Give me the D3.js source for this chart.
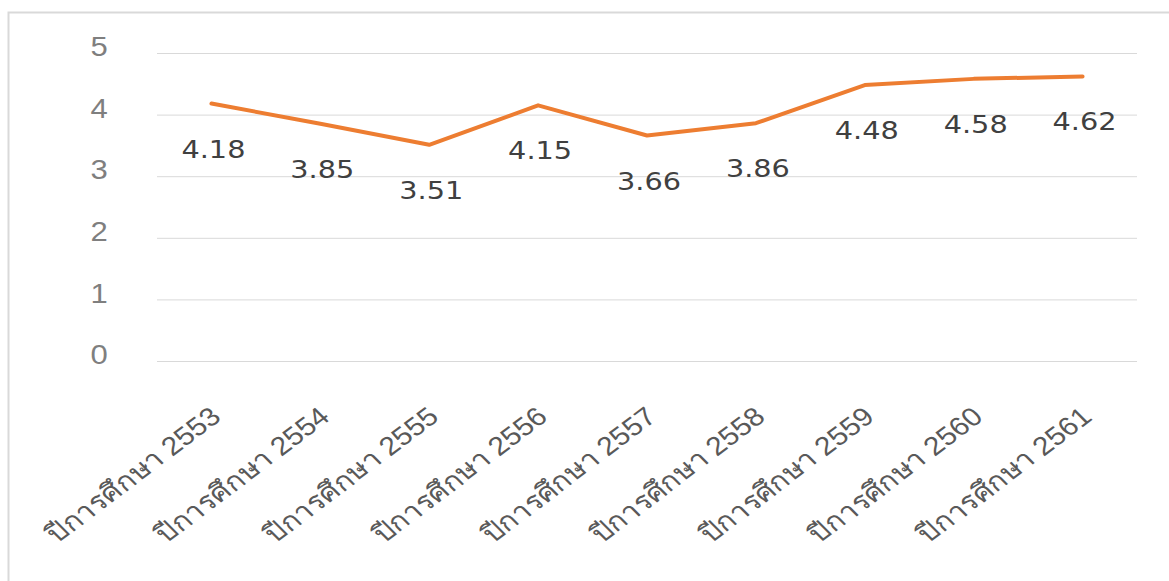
<!DOCTYPE html>
<html>
<head>
<meta charset="utf-8">
<script src="https://cdnjs.cloudflare.com/ajax/libs/d3/7.8.5/d3.min.js"></script>
<style>
  body { margin: 0; background: #fff; }
  svg { display: block; font-family: "DejaVu Sans", "Noto Sans", sans-serif; }
</style>
</head>
<body>
<svg id="chart" width="1169" height="581"></svg>
<script>
const years = ["ปีการศึกษา 2553", "ปีการศึกษา 2554", "ปีการศึกษา 2555", "ปีการศึกษา 2556",
  "ปีการศึกษา 2557", "ปีการศึกษา 2558", "ปีการศึกษา 2559", "ปีการศึกษา 2560", "ปีการศึกษา 2561"];
const scores = [4.18, 3.85, 3.51, 4.15, 3.66, 3.86, 4.48, 4.58, 4.62];
const yTicks = [0, 1, 2, 3, 4, 5];

const svg = d3.select("#chart");
const margin = { top: 53, right: 32, bottom: 220, left: 157 };
const width = 1169 - margin.left - margin.right;
const height = 581 - margin.top - margin.bottom;
const stretch = 1.15; // text in the original is a bit wider than tall

// chart frame
svg.append("rect")
  .attr("x", 8.5).attr("y", 12.5)
  .attr("width", 1200).attr("height", 600)
  .attr("fill", "none")
  .attr("stroke", "#d9d9d9")
  .attr("stroke-width", 2);

const g = svg.append("g").attr("transform", "translate(" + margin.left + "," + margin.top + ")");

const x = d3.scaleBand().domain(years).range([0, width]);
const y = d3.scaleLinear().domain([0, 5]).range([height, 0]);

// gridlines + y labels
const yAxis = g.append("g")
  .call(d3.axisLeft(y).tickValues(yTicks).tickSize(-width).tickFormat(d3.format("d")));
yAxis.select(".domain").remove();
yAxis.selectAll(".tick line").attr("stroke", "#d9d9d9").attr("stroke-width", 1);
yAxis.selectAll(".tick text")
  .attr("fill", "#7f7f7f")
  .attr("font-size", 27)
  .attr("text-anchor", "middle")
  .attr("x", 0)
  .attr("dy", "0.1em")
  .attr("transform", "translate(-58,0) scale(" + stretch + ",1)");

// x labels
const xAxis = g.append("g")
  .attr("transform", "translate(0," + height + ")")
  .call(d3.axisBottom(x).tickSize(0).tickPadding(0));
xAxis.select(".domain").remove();
xAxis.selectAll(".tick text")
  .attr("fill", "#595959")
  .attr("font-size", 26)
  .attr("text-anchor", "end")
  .attr("y", 0)
  .attr("dy", 0)
  .attr("transform", "translate(11,58) scale(" + stretch + ",1) rotate(-41)");

// line
const line = d3.line()
  .x((d, i) => x(years[i]) + x.bandwidth() / 2)
  .y(d => y(d));

g.append("path")
  .datum(scores)
  .attr("fill", "none")
  .attr("stroke", "#ed7d31")
  .attr("stroke-width", 4)
  .attr("stroke-linejoin", "round")
  .attr("stroke-linecap", "round")
  .attr("d", line);

// data labels
g.selectAll(".lbl")
  .data(scores)
  .enter().append("text")
  .attr("class", "lbl")
  .attr("transform", (d, i) => "translate(" + (x(years[i]) + x.bandwidth() / 2 + 2) + "," + (y(d) + 54) + ") scale(" + stretch + ",1)")
  .attr("text-anchor", "middle")
  .attr("fill", "#404040")
  .attr("font-size", 25)
  .text(d => d3.format(".2f")(d));
</script>
</body>
</html>
